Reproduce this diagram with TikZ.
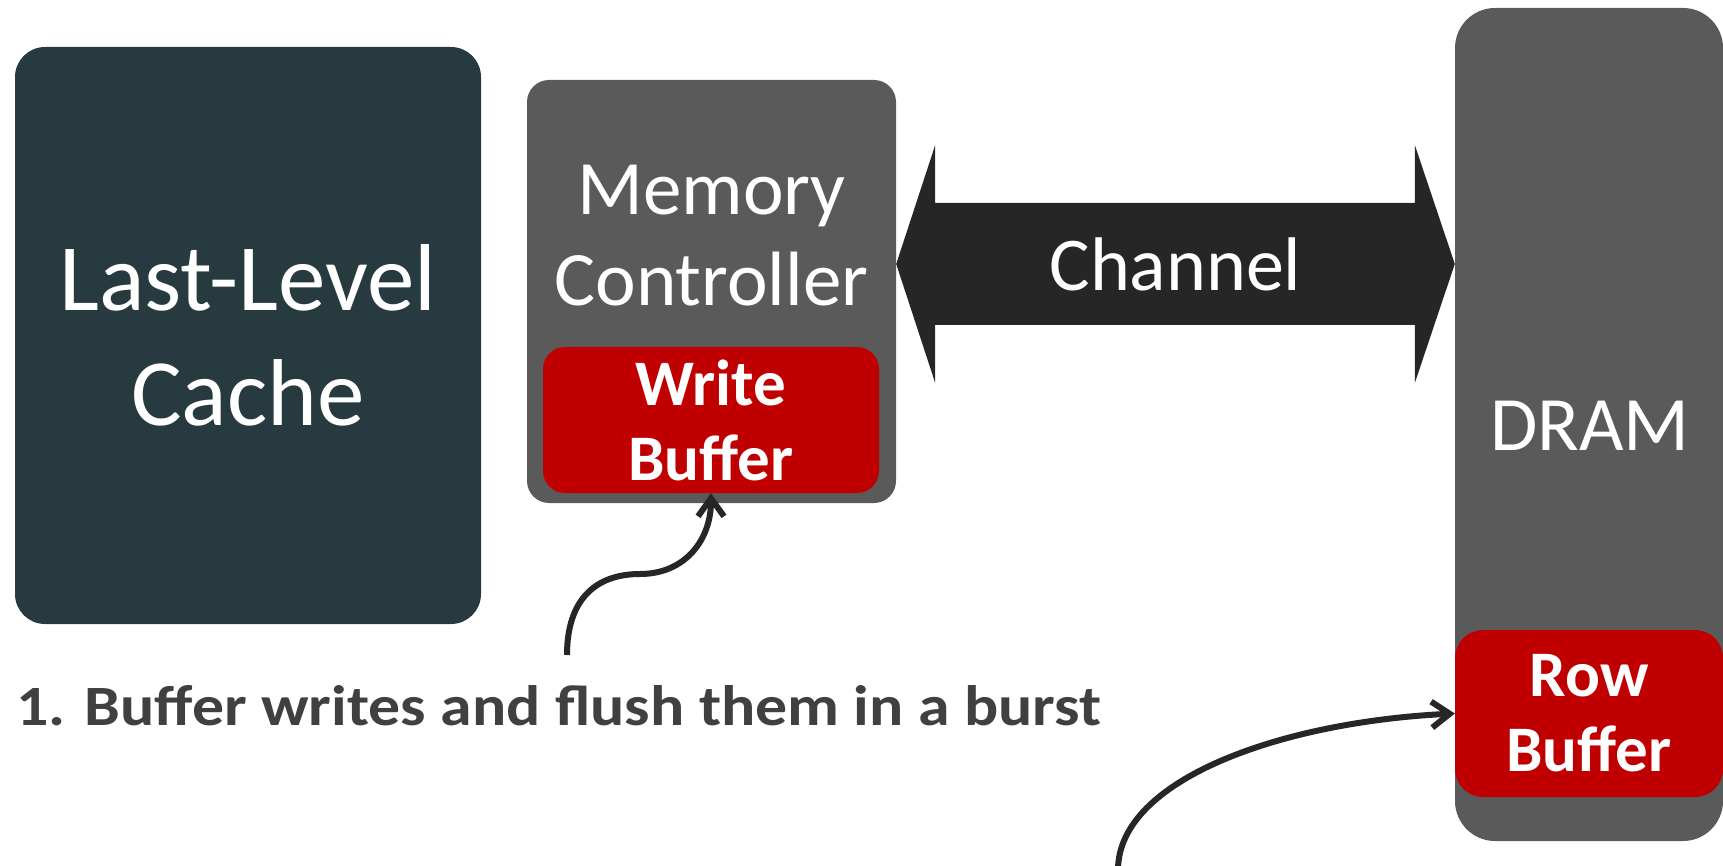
\documentclass[tikz,border=0pt]{standalone}
\usepackage{fontspec}
\setmainfont{Carlito}
\usetikzlibrary{positioning,arrows.meta,calc}
\definecolor{llcc}{HTML}{263A3F}
\definecolor{boxg}{HTML}{5A5A5A}
\definecolor{bufr}{HTML}{C00000}
\definecolor{chanc}{HTML}{262626}
\definecolor{labc}{HTML}{404040}
\begin{document}
\begin{tikzpicture}[x=1pt,y=-1pt,
blk/.style={rounded corners=#1,inner sep=0pt},
buf/.style={fill=bufr,rounded corners=22pt,inner sep=0pt,text=white,align=center,font=\fontsize{65}{75}\selectfont\bfseries},
arr/.style={-{Straight Barb[length=18pt,width=26pt,line width=6pt]},line width=6pt,chanc}]
\useasboundingbox (0,0) rectangle (1723,866);
\node[blk=30pt,fill=llcc,minimum width=466pt,minimum height=577pt,text=white,align=center,
  font=\fontsize{95}{115}\selectfont] (llc) at (248,335.5) {Last-Level\\Cache};
\node[blk=22pt,fill=boxg,minimum width=369pt,minimum height=423pt] (mc) at (711.5,291.5) {};
\node[text=white,align=center,font=\fontsize{77}{91}\selectfont] (mctxt) at (711.5,236) {Memory\\Controller};
\node[buf,minimum width=336pt,minimum height=146pt] (wb) at (711,420) {Write\\Buffer};
\node[blk=40pt,fill=boxg,minimum width=268pt,minimum height=833pt] (dram) at (1589,424.5) {};
\node[text=white,font=\fontsize{77}{91}\selectfont] (dtxt) at (1590,426) {DRAM};
\node[buf,minimum width=268pt,minimum height=167pt,rounded corners=28pt] (rb) at (1589,713.5) {Row\\Buffer};
% channel between controller and dram
\coordinate (lt) at (mc.east |- 0,264);
\coordinate (rt) at (dram.west |- 0,264);
\fill[chanc] (lt) -- ($(lt)+(39,-119)$) -- ($(lt)+(39,-61)$) -- ($(rt)+(-40,-61)$) -- ($(rt)+(-40,-119)$)
  -- (rt) -- ($(rt)+(-40,119)$) -- ($(rt)+(-40,61)$) -- ($(lt)+(39,61)$) -- ($(lt)+(39,119)$) -- cycle;
\node[text=white,font=\fontsize{76}{90}\selectfont] (chan) at ($(lt)!0.5!(rt)$) {Channel};
\node[anchor=base west,inner sep=0pt,text=labc,transform shape,xscale=1.12,
  font=\fontsize{57}{68}\selectfont\bfseries] (lab) at (16,725)
  {1. Buffer writes and flush them in a burst};
\coordinate (s1) at (567,655);
\coordinate (s2) at (1118,870);
\draw[arr] (s1) .. controls (567,600) and (595,574) .. (640,574) .. controls (685,574) and (711,540) .. (wb.south);
\draw[arr] (s2) .. controls (1118,780) and (1280,722) .. (rb.west);
\end{tikzpicture}
\end{document}
